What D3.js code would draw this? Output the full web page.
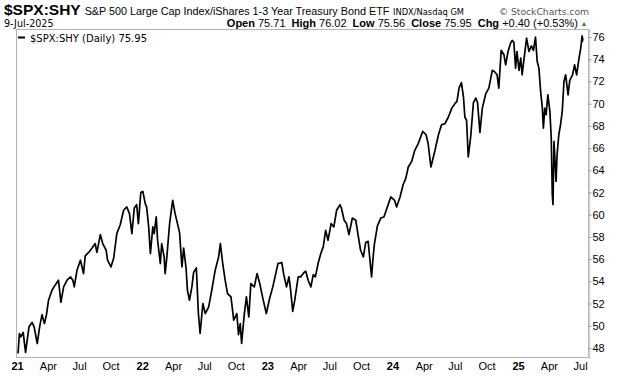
<!DOCTYPE html>
<html>
<head>
<meta charset="utf-8">
<script src="https://cdn.jsdelivr.net/npm/d3@7"></script>
<style>
  body { margin: 0; background: #fff; }
  svg { display: block; }
</style>
</head>
<body>
<script>

// closing values of $SPX:SHY, roughly weekly, MM-DD per year
const y2021 = [["01-04",47.5],["01-08",49.3],["01-12",49.0],["01-19",49.4],["01-26",47.6],["02-05",49.9],["02-14",50.3],["02-20",49.9],["03-01",48.4],["03-08",49.9],["03-15",51.0],["03-22",50.2],["03-28",51.0],["04-03",52.3],["04-13",53.2],["04-23",53.7],["05-02",54.1],["05-09",52.1],["05-17",53.5],["05-27",54.1],["06-06",54.4],["06-13",54.1],["06-17",53.5],["06-25",55.0],["07-05",55.9],["07-14",54.7],["07-19",56.3],["07-29",56.6],["08-08",57.0],["08-17",57.4],["08-22",56.6],["09-01",58.2],["09-08",57.4],["09-18",56.8],["09-22",55.9],["10-02",55.3],["10-10",56.1],["10-19",58.3],["10-29",59.1],["11-08",60.4],["11-17",60.7],["11-25",60.1],["12-02",58.3],["12-09",60.6],["12-16",60.9],["12-21",59.2],["12-28",62.0]];
const y2022 = [["01-03",62.1],["01-10",61.0],["01-14",60.7],["01-20",58.9],["01-25",56.5],["02-01",58.9],["02-05",58.3],["02-11",59.8],["02-15",57.7],["02-23",55.6],["02-27",57.4],["03-06",56.2],["03-09",54.7],["03-14",56.2],["03-22",59.2],["03-31",61.3],["04-07",60.1],["04-14",59.2],["04-20",58.4],["04-27",55.3],["05-02",57.0],["05-09",55.2],["05-13",53.2],["05-19",52.3],["05-26",53.5],["05-31",54.8],["06-08",55.2],["06-14",51.1],["06-19",49.3],["06-27",52.0],["07-04",51.1],["07-14",51.7],["07-23",53.2],["08-02",55.0],["08-12",56.2],["08-17",57.4],["08-24",55.6],["08-31",54.1],["09-07",52.9],["09-17",52.6],["09-25",50.5],["10-04",51.1],["10-09",49.2],["10-14",50.2],["10-18",48.4],["10-26",51.1],["11-01",52.6],["11-08",50.8],["11-14",53.8],["11-24",53.5],["12-02",54.7],["12-10",53.8],["12-18",52.6],["12-29",51.1]];
const y2023 = [["01-08",52.5],["01-17",53.5],["02-01",55.6],["02-12",55.7],["02-18",54.6],["02-26",53.5],["03-05",54.4],["03-10",53.2],["03-16",51.3],["03-22",52.3],["04-01",54.4],["04-08",54.4],["04-18",54.8],["04-23",54.9],["04-30",54.1],["05-08",53.5],["05-15",54.6],["05-21",54.4],["05-29",55.6],["06-06",56.5],["06-13",57.1],["06-20",58.6],["06-27",57.7],["07-06",59.2],["07-14",58.9],["07-22",60.4],["08-01",60.9],["08-05",60.6],["08-13",59.5],["08-20",59.2],["08-27",58.2],["09-06",59.7],["09-16",59.5],["09-22",58.3],["09-30",56.8],["10-08",56.2],["10-15",57.5],["10-22",57.6],["10-27",56.0],["11-01",54.4],["11-05",56.0],["11-09",57.3],["11-18",59.0],["11-28",59.7],["12-07",59.8],["12-17",60.7],["12-27",61.6]];
const y2024 = [["01-07",61.3],["01-13",60.7],["01-23",61.6],["02-01",62.7],["02-09",63.3],["02-16",64.3],["02-26",64.8],["03-06",65.8],["03-16",66.4],["03-29",67.5],["04-08",67.2],["04-14",66.4],["04-22",64.3],["05-04",65.8],["05-14",67.2],["05-23",68.1],["06-02",68.2],["06-12",68.8],["06-22",69.6],["07-01",70.0],["07-07",70.2],["07-13",71.4],["07-20",71.9],["07-26",70.6],["07-30",68.8],["08-04",68.5],["08-09",65.2],["08-16",67.0],["08-24",70.1],["08-31",70.5],["09-05",70.1],["09-12",67.4],["09-19",69.6],["09-29",70.9],["10-08",71.4],["10-18",73.0],["10-24",72.9],["11-01",72.6],["11-06",71.4],["11-13",74.8],["11-21",74.4],["11-26",73.5],["12-03",74.7],["12-11",75.5],["12-15",75.7],["12-20",75.5],["12-25",73.2],["12-29",74.7]];
const y2025 = [["01-04",73.0],["01-09",74.1],["01-13",72.6],["01-20",74.4],["01-26",75.9],["02-02",74.7],["02-09",75.2],["02-15",74.8],["02-21",76.0],["02-26",73.8],["03-03",73.2],["03-08",71.1],["03-13",69.6],["03-16",67.8],["03-20",69.6],["03-24",69.0],["03-29",70.8],["04-04",69.3],["04-08",66.9],["04-11",61.8],["04-13",60.9],["04-16",66.6],["04-19",64.8],["04-22",63.0],["04-25",65.4],["04-30",67.2],["05-05",68.1],["05-10",69.3],["05-15",72.0],["05-20",72.6],["05-27",70.8],["06-01",72.1],["06-09",72.6],["06-15",73.5],["06-21",72.6],["06-28",74.1],["07-03",75.0],["07-07",76.1],["07-08",75.6],["07-09",75.95]];

const yTicks = [48,50,52,54,56,58,60,62,64,66,68,70,72,74,76];
const yearTicks = ["2021-01-01","2022-01-01","2023-01-01","2024-01-01","2025-01-01"];
const monthTicks = ["2021-04-01","2021-07-01","2021-10-01","2022-04-01","2022-07-01","2022-10-01",
                    "2023-04-01","2023-07-01","2023-10-01","2024-04-01","2024-07-01","2024-10-01",
                    "2025-04-01","2025-07-01"];

const quote = [["Open","75.71"],["High","76.02"],["Low","75.56"],["Close","75.95"]];
const chg = ["+0.40","(+0.53%)"];


let canvasW = 620;
let canvasH = 376;
let plotL = 16, plotR = 588, plotT = 29.5, plotB = 357.5;

let parse = d3.timeParse("%Y-%m-%d");

let data = [[2021,y2021],[2022,y2022],[2023,y2023],[2024,y2024],[2025,y2025]]
  .flatMap(([yr, arr]) => arr.map(([md, v]) => ({ date: parse(yr + "-" + md), value: v })));

let svg = d3.select("body").append("svg")
  .attr("width", canvasW)
  .attr("height", canvasH);

// x: calendar scale anchored on the year labels
let x = d3.scaleTime()
  .domain([parse("2021-01-01"), parse("2025-01-01")])
  .range([17, 518]);

let y = d3.scaleLinear()
  .domain([47.14, 76.68])
  .range([plotB, plotT]);

// frame
svg.append("rect")
  .attr("x", plotL + 0.5).attr("y", plotT)
  .attr("width", plotR - plotL).attr("height", plotB - plotT)
  .attr("fill", "none")
  .attr("stroke", "#b4b4b4")
  .attr("stroke-width", 1);

// right axis with fine minor ticks
let minor = d3.range(47.25, 76.6, 0.25);
svg.append("g")
  .attr("transform", `translate(${plotR + 0.5},0)`)
  .call(d3.axisRight(y).tickValues(minor).tickSize(2).tickFormat(""))
  .call(g => g.select(".domain").attr("stroke", "#b4b4b4"))
  .call(g => g.selectAll(".tick line").attr("stroke", "#c8c8c8"));

svg.append("g")
  .attr("transform", `translate(${plotR + 0.5},0)`)
  .call(d3.axisRight(y).tickValues(yTicks).tickSize(3).tickPadding(1))
  .call(g => g.select(".domain").remove())
  .call(g => g.selectAll(".tick line").attr("stroke", "#999"))
  .call(g => g.selectAll("text")
    .attr("font-family", "Liberation Sans, Arial, sans-serif")
    .attr("font-size", "11px")
    .attr("fill", "#000"));

// bottom labels
svg.append("g")
  .attr("transform", `translate(0,${plotB})`)
  .call(d3.axisBottom(x)
    .tickValues(yearTicks.map(parse))
    .tickSize(0).tickPadding(5)
    .tickFormat(d3.timeFormat("%y")))
  .call(g => g.select(".domain").remove())
  .call(g => g.selectAll("text")
    .attr("font-family", "Liberation Sans, Arial, sans-serif")
    .attr("font-size", "11px")
    .attr("font-weight", "bold")
    .attr("fill", "#000"));

svg.append("g")
  .attr("transform", `translate(0,${plotB})`)
  .call(d3.axisBottom(x)
    .tickValues(monthTicks.map(parse))
    .tickSize(0).tickPadding(5)
    .tickFormat(d3.timeFormat("%b")))
  .call(g => g.select(".domain").remove())
  .call(g => g.selectAll("text")
    .attr("font-family", "Liberation Sans, Arial, sans-serif")
    .attr("font-size", "11px")
    .attr("fill", "#000"));

// price line
let line = d3.line()
  .x(d => x(d.date))
  .y(d => y(d.value));

svg.append("path")
  .datum(data)
  .attr("d", line)
  .attr("fill", "none")
  .attr("stroke", "#000")
  .attr("stroke-width", 1.7)
  .attr("stroke-linejoin", "round");

// header
let head = svg.append("text")
  .attr("x", 4).attr("y", 14.5)
  .attr("font-family", "Liberation Sans, Arial, sans-serif");
head.append("tspan")
  .attr("font-size", "15.5px").attr("font-weight", "bold")
  .text("$SPX:SHY");
head.append("tspan")
  .attr("font-size", "10.8px").attr("dx", 4)
  .text("S&P 500 Large Cap Index/iShares 1-3 Year Treasury Bond ETF");

svg.append("text")
  .attr("x", 393).attr("y", 14.5)
  .attr("font-family", "DejaVu Sans, sans-serif")
  .attr("font-size", "8.3px")
  .text("INDX/Nasdaq GM");

svg.append("text")
  .attr("x", 589).attr("y", 14.5)
  .attr("text-anchor", "end")
  .attr("font-family", "DejaVu Sans, sans-serif")
  .attr("font-size", "9.2px")
  .attr("fill", "#555")
  .text("\u00a9 StockCharts.com");

svg.append("text")
  .attr("x", 4).attr("y", 26.5)
  .attr("font-family", "DejaVu Sans, sans-serif")
  .attr("font-size", "9.6px")
  .text("9-Jul-2025");

let q = svg.append("text")
  .attr("x", 578).attr("y", 26.5)
  .attr("text-anchor", "end")
  .attr("font-family", "Liberation Sans, Arial, sans-serif")
  .attr("font-size", "11px");
quote.forEach(([k, v], i) => {
  q.append("tspan").attr("font-weight", "bold").attr("dx", i ? 6 : 0).text(k + " ");
  q.append("tspan").text(v);
});
q.append("tspan").attr("font-weight", "bold").attr("dx", 6).text("Chg ");
q.append("tspan").text(chg.join(" "));

svg.append("text")
  .attr("x", 584).attr("y", 26)
  .attr("text-anchor", "middle")
  .attr("font-size", "7px")
  .attr("fill", "#2f7d32")
  .text("\u25b2");

// legend
svg.append("line")
  .attr("x1", 18).attr("x2", 25)
  .attr("y1", 37.5).attr("y2", 37.5)
  .attr("stroke", "#000").attr("stroke-width", 2);

svg.append("text")
  .attr("x", 30).attr("y", 41.5)
  .attr("font-family", "DejaVu Sans, sans-serif")
  .attr("font-size", "10px")
  .text("$SPX:SHY (Daily) 75.95");

</script>
</body>
</html>
